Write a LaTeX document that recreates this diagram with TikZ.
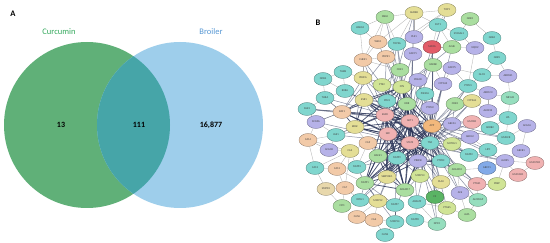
\documentclass[tikz,border=0pt]{standalone}
\usepackage{fontspec}
\setmainfont{Carlito}
\usetikzlibrary{shapes,positioning,backgrounds}

\definecolor{vGreen}{RGB}{96,176,120}
\definecolor{vBlue}{RGB}{158,206,235}
\definecolor{vTeal}{RGB}{70,165,168}
\definecolor{vGreenTxt}{RGB}{52,168,92}
\definecolor{vBlueTxt}{RGB}{88,152,212}
\definecolor{sTeal}{RGB}{128,214,206}
\definecolor{sAqua}{RGB}{150,222,190}
\definecolor{sGreen}{RGB}{170,222,160}
\definecolor{sDkGreen}{RGB}{90,180,100}
\definecolor{sPeach}{RGB}{242,202,168}
\definecolor{sYellow}{RGB}{228,222,150}
\definecolor{sYGreen}{RGB}{208,228,150}
\definecolor{sPurple}{RGB}{182,178,232}
\definecolor{sBlue}{RGB}{130,170,232}
\definecolor{sPink}{RGB}{240,178,178}
\definecolor{sRed}{RGB}{226,92,104}
\definecolor{sOrange}{RGB}{242,184,124}
\definecolor{sBeige}{RGB}{232,216,172}
\definecolor{edgeBlue}{RGB}{40,50,86}

\tikzset{
  gn/.style={ellipse, draw=#1!60!black, fill=#1, line width=0.3pt, minimum width=18pt,
    minimum height=13pt, inner sep=0pt, text=black!75, font=\fontsize{2.8}{3}\selectfont},
  lite/.style={gray!65, line width=0.3pt},
  mid/.style={edgeBlue, draw opacity=0.55, line width=0.5pt},
  dk/.style={edgeBlue, draw opacity=0.8, line width=0.8pt},
  venn/.style={font=\bfseries\fontsize{8}{9}\selectfont}
}

\begin{document}
\begin{tikzpicture}[x=1pt,y=-1pt]
\useasboundingbox (0,0) rectangle (550,243);

% panel A
\fill[vGreen] (87,125) circle[radius=83pt];
\fill[vBlue] (180,125) circle[radius=83pt];
\begin{scope}
  \clip (87,125) circle[radius=83pt];
  \fill[vTeal] (180,125) circle[radius=83pt];
\end{scope}
\node[font=\bfseries\fontsize{8.5}{9}\selectfont] (labA) at (13,14) {A};
\node[text=vGreenTxt, font=\fontsize{8.5}{9}\selectfont] (cur) at (59,32) {Curcumin};
\node[text=vBlueTxt, font=\fontsize{8.5}{9}\selectfont] (bro) at (211,32) {Broiler};
\node[venn] (n13) at (61,125) {13};
\node[venn] (n111) at (139,125) {111};
\node[venn] (n16877) at (211,125) {16,877};

% panel B
\node[font=\bfseries\fontsize{8.5}{9}\selectfont] (labB) at (318,23) {B};

\node[gn=sTeal] (hdac6) at (360,28) {HDAC6};
\node[gn=sGreen] (melk) at (385,17) {MELK};
\node[gn=sYellow] (aurkb) at (414,13) {AURKB};
\node[gn=sYellow] (top1) at (447,10) {TOP1};
\node[gn=sTeal] (fut1) at (438,25) {FUT1};
\node[gn=sTeal] (st6) at (459,34) {ST6GAL1};
\node[gn=sGreen] (grk2) at (470,19) {GRK2};
\node[gn=sPeach] (wee1) at (378,42) {WEE1};
\node[gn=sTeal] (top2a) at (397,44) {TOP2A};
\node[gn=sPurple] (plk1) at (414,37) {PLK1};
\node[gn=sRed] (maoa) at (432,47) {MAOA};
\node[gn=sGreen] (ache) at (452,47) {ACHE};
\node[gn=sPurple] (nqo2) at (475,48) {NQO2};
\node[gn=sTeal] (grk6) at (492,38) {GRK6};
\node[gn=sPeach] (chek1) at (363,60) {CHEK1};
\node[gn=sPeach] (pdpk1) at (386,57) {PDPK1};
\node[gn=sPurple] (adcy1) at (413,54) {ADCY1};
\node[gn=sGreen] (cdk1) at (400,70) {CDK1};
\node[gn=sGreen] (gsk3b) at (433,65) {GSK3B};
\node[gn=sPurple] (adcy5) at (452,68) {ADCY5};
\node[gn=sTeal] (grk5) at (497,58) {GRK5};
\node[gn=sTeal] (glo1) at (482,75) {GLO1};
\node[gn=sPurple] (akr1b1) at (508,76) {AKR1B1};
\node[gn=sTeal] (ptpn1) at (468,86) {PTPN1};
\node[gn=sPurple] (akr1c3) at (488,93) {AKR1C3};
\node[gn=sAqua] (nr1h3) at (510,98) {NR1H3};
\node[gn=sPurple] (pde4d) at (418,80) {PDE4D};
\node[gn=sPurple] (cyp1a2) at (443,84) {CYP1A2};
\node[gn=sTeal] (pik3ca) at (425,94) {PIK3CA};
\node[gn=sGreen] (cdk2) at (455,104) {CDK2};
\node[gn=sYellow] (cyp3a4) at (472,101) {CYP3A4};
\node[gn=sPurple] (ptpn2) at (430,108) {PTPN2};
\node[gn=sPurple] (alox12) at (488,111) {ALOX12};
\node[gn=sTeal] (lpl) at (508,118) {LPL};

\node[gn=sTeal] (thrb) at (343,72) {THRB};
\node[gn=sTeal] (nox4) at (323,79) {NOX4};
\node[gn=sYellow] (prkca) at (363,78) {PRKCA};
\node[gn=sYGreen] (ptk2) at (382,85) {PTK2};
\node[gn=sYGreen] (fyn) at (402,87) {FYN};
\node[gn=sTeal] (rxra) at (345,91) {RXRA};
\node[gn=sTeal] (thra) at (325,98) {THRA};
\node[gn=sYellow] (esr1) at (364,100) {ESR1};
\node[gn=sTeal] (pim1) at (387,101) {PIM1};
\node[gn=sGreen] (kdr) at (407,104) {KDR};
\node[gn=sTeal] (sgk1) at (307,109) {SGK1};
\node[gn=sPeach] (raf1) at (342,112) {RAF1};
\node[gn=sPink] (egfr) at (385,115) {EGFR};
\node[gn=sPink] (akt1) at (410,121) {AKT1};
\node[gn=sOrange] (app) at (432,126) {APP};
\node[gn=sPurple] (abca1) at (452,124) {ABCA1};
\node[gn=sPink] (hmox1) at (472,122) {HMOX1};
\node[gn=sTeal] (adrb2) at (490,128) {ADRB2};
\node[gn=sPurple] (acaca) at (527,126) {ACACA};

\node[gn=sPurple] (scn5a) at (316,122) {SCN5A};
\node[gn=sYellow] (braf) at (355,127) {BRAF};
\node[gn=sTeal] (jak1) at (336,135) {JAK1};
\node[gn=sPeach] (ca14) at (308,140) {CA14};
\node[gn=sPeach] (ca9) at (368,143) {CA9};
\node[gn=sPink] (src) at (388,134) {SRC};
\node[gn=sPink] (stat3) at (410,143) {STAT3};
\node[gn=sTeal] (tnf) at (430,143) {TNF};
\node[gn=sYGreen] (notch1) at (452,144) {NOTCH1};
\node[gn=sPurple] (abcg2) at (470,137) {ABCG2};
\node[gn=sTeal] (hmgcr) at (506,138) {HMGCR};
\node[gn=sPurple] (acacb) at (329,150) {ACACB};
\node[gn=sYellow] (ca2) at (350,151) {CA2};
\node[gn=sGreen] (bace1) at (378,156) {BACE1};
\node[gn=sTeal] (mmp9) at (397,158) {MMP9};
\node[gn=sTeal] (mmp2) at (469,155) {MMP2};
\node[gn=sTeal] (lipc) at (488,150) {LIPC};
\node[gn=sPurple] (abcb1) at (521,151) {ABCB1};
\node[gn=sPurple] (alox5) at (505,161) {ALOX5};
\node[gn=sPink] (hsd17) at (535,163) {HSD17B1};
\node[gn=sTeal] (ca13) at (315,168) {CA13};
\node[gn=sPeach] (ca12) at (337,169) {CA12};
\node[gn=sTeal] (mmp3) at (357,167) {MMP3};
\node[gn=sPurple] (prkcb) at (418,161) {PRKCB};
\node[gn=sTeal] (ptprc) at (441,161) {PTPRC};
\node[gn=sGreen] (adam10) at (457,170) {ADAM10};
\node[gn=sBlue] (abcc1) at (487,168) {ABCC1};
\node[gn=sPink] (hsd11) at (518,175) {HSD11B1};
\node[gn=sBeige] (smpd1) at (326,189) {SMPD1};
\node[gn=sPeach] (ca7) at (345,188) {CA7};
\node[gn=sGreen] (mmp1) at (365,183) {MMP1};
\node[gn=sYellow] (serpine1) at (387,177) {SERPINE1};
\node[gn=sGreen] (adam17) at (405,190) {ADAM17};
\node[gn=sYGreen] (mmp13) at (420,176) {MMP13};
\node[gn=sYellow] (plau) at (441,182) {PLAU};
\node[gn=sPink] (ptgs1) at (477,184) {PTGS1};
\node[gn=sYGreen] (prep) at (497,184) {PREP};
\node[gn=sPurple] (ace) at (460,193) {ACE};
\node[gn=sGreen] (cpo) at (342,206) {CPO};
\node[gn=sTeal] (oprl1) at (360,200) {OPRL1};
\node[gn=sYellow] (mmp12) at (378,201) {MMP12};
\node[gn=sTeal] (mmp7) at (395,205) {MMP7};
\node[gn=sTeal] (adam9) at (417,202) {ADAM9};
\node[gn=sDkGreen] (f2) at (435,197) {F2};
\node[gn=sAqua] (alox5ap) at (478,200) {ALOX5AP};
\node[gn=sYGreen] (ptges) at (447,208) {PTGES};
\node[gn=sPeach] (ca5a) at (357,217) {CA5A};
\node[gn=sPeach] (ca6) at (374,220) {CA6};
\node[gn=sTeal] (mmp14) at (395,222) {MMP14};
\node[gn=sGreen] (alpl) at (467,215) {ALPL};
\node[gn=sAqua] (dpp4) at (437,224) {DPP4};
\node[gn=sTeal] (mmp8) at (415,220) {MMP8};
\node[gn=sTeal] (ca5b) at (385,235) {CA5B};

\begin{scope}[on background layer]
% light links
\path[lite] (hdac6) edge (wee1) edge (chek1) edge (melk);
\path[lite] (melk) edge (wee1) edge (top2a) edge (aurkb) edge (chek1);
\path[lite] (aurkb) edge (top2a) edge (top1) edge (wee1) edge (plk1) edge (fut1);
\path[lite] (top1) edge (top2a) edge (fut1) edge (plk1);
\path[lite] (fut1) edge (st6) edge (maoa) edge (ache);
\path[lite] (st6) edge (ache) edge (nqo2) edge (grk2);
\path[lite] (grk6) edge (grk2) edge (grk5);
\path[lite] (glo1) edge (grk5) edge (akr1b1) edge (ptpn1) edge (adcy5);
\path[lite] (akr1b1) edge (grk5) edge (nr1h3);
\path[lite] (akr1c3) edge (ptpn1) edge (nr1h3) edge (alox12);
\path[lite] (lpl) edge (nr1h3) edge (alox12) edge (hmgcr);
\path[lite] (cdk2) edge (cyp3a4) edge (ptpn1) (cyp3a4) edge (alox12);
\path[lite] (maoa) edge (ache) edge (nqo2) edge (plk1) (nqo2) edge (ptpn1);
\path[lite] (gsk3b) edge (adcy5) (plk1) edge (adcy1);
\path[lite] (chek1) edge (wee1) edge (pdpk1) edge (prkca) edge (cdk1);
\path[lite] (top2a) edge (wee1) edge (pdpk1) edge (plk1) (pdpk1) edge (cdk1);
\path[lite] (thrb) edge (nox4) edge (rxra) edge (prkca);
\path[lite] (thra) edge (nox4) edge (rxra) edge (sgk1) edge (raf1);
\path[lite] (rxra) edge (nox4) edge (esr1);
\path[lite] (scn5a) edge (sgk1) edge (raf1) edge (jak1) (sgk1) edge (raf1);
\path[lite] (jak1) edge (braf) edge (acacb) edge (ca14);
\path[lite] (ca14) edge (acacb) edge (ca2) edge (ca13);
\path[lite] (ca2) edge (acacb) edge (ca9) edge (ca12) edge (ca13) edge (ca7) edge (mmp3);
\path[lite] (ca13) edge (ca12) edge (smpd1) (ca12) edge (ca7);
\path[lite] (ca7) edge (smpd1) edge (cpo) edge (oprl1);
\path[lite] (ca9) edge (braf) edge (mmp3) (cpo) edge (oprl1) (oprl1) edge (mmp12);
\path[lite] (ca6) edge (ca5a) edge (ca5b) edge (mmp12) (ca5a) edge (mmp14);
\path[lite] (mmp14) edge (ca5b) edge (mmp7) edge (mmp8) (mmp7) edge (mmp12);
\path[lite] (dpp4) edge (mmp8) edge (ptges) edge (adam9);
\path[lite] (ptges) edge (alpl) edge (ace) edge (adam9) edge (f2);
\path[lite] (ace) edge (alox5ap) edge (alpl) edge (adam10) edge (ptgs1);
\path[lite] (ptgs1) edge (alox5ap) edge (prep) edge (abcc1) (prep) edge (alox5);
\path[lite] (alox5) edge (hsd11) edge (hsd17) edge (abcb1) edge (abcc1);
\path[lite] (hsd17) edge (hsd11) (abcb1) edge (acaca) (acaca) edge (hmgcr);
\path[lite] (lipc) edge (hmgcr) edge (abcg2) edge (abcc1) (hmgcr) edge (adrb2);
\path[lite] (abcg2) edge (notch1) edge (abca1) (abcc1) edge (adam10);
\path[lite] (plau) edge (adam10) edge (f2) (f2) edge (adam9);
\path[lite] (hmox1) edge (abca1) edge (adrb2) (adrb2) edge (lpl);
\path[lite] (ca12) edge (mmp3) edge (mmp1) (smpd1) edge (cpo) (ca14) edge (scn5a);
\path[lite] (gsk3b) edge (maoa) edge (cyp1a2) (adcy5) edge (cyp1a2) edge (ptpn1);
\path[lite] (mmp12) edge (ca5a) (mmp8) edge (adam9) (alpl) edge (alox5ap);
% medium links
\path[mid] (prkca) edge (akt1) edge (raf1) edge (fyn) edge (egfr) edge (braf);
\path[mid] (ptk2) edge (akt1) edge (stat3) edge (fyn) edge (src) edge (kdr);
\path[mid] (cdk1) edge (akt1) edge (stat3) edge (egfr) edge (ptk2);
\path[mid] (pdpk1) edge (akt1) edge (egfr) edge (raf1);
\path[mid] (gsk3b) edge (akt1) edge (app) edge (fyn) edge (tnf);
\path[mid] (adcy1) edge (akt1) edge (stat3) edge (fyn);
\path[mid] (pde4d) edge (akt1) edge (tnf) edge (src) edge (app);
\path[mid] (cyp1a2) edge (tnf) edge (app) edge (prkcb);
\path[mid] (pik3ca) edge (akt1) edge (stat3) edge (tnf) edge (app);
\path[mid] (pim1) edge (akt1) edge (stat3) edge (egfr) edge (fyn);
\path[mid] (ptpn2) edge (akt1) edge (app) edge (tnf) edge (stat3);
\path[mid] (cdk2) edge (app) edge (tnf) edge (abca1);
\path[mid] (cyp3a4) edge (app) edge (tnf) edge (prkcb);
\path[mid] (ptpn1) edge (app) edge (tnf);
\path[mid] (mmp2) edge (app) edge (tnf) edge (akt1) edge (notch1);
\path[mid] (notch1) edge (akt1) edge (stat3) edge (app);
\path[mid] (abcg2) edge (app) edge (tnf);
\path[mid] (adam10) edge (app) edge (stat3) edge (tnf) edge (mmp9);
\path[mid] (mmp13) edge (akt1) edge (stat3) edge (tnf) edge (mmp9) edge (adam17);
\path[mid] (plau) edge (tnf) edge (akt1) edge (stat3);
\path[mid] (mmp3) edge (mmp9) edge (bace1) edge (mmp1);
\path[mid] (mmp12) edge (mmp9) edge (mmp1) edge (serpine1);
\path[mid] (oprl1) edge (serpine1) edge (mmp9) edge (mmp1);
\path[mid] (mmp7) edge (mmp1) edge (adam17) edge (mmp9);
\path[mid] (adam9) edge (adam17) edge (tnf) edge (akt1);
\path[mid] (f2) edge (tnf) edge (app) edge (stat3);
\path[mid] (ca9) edge (bace1) edge (mmp9) edge (stat3);
\path[mid] (jak1) edge (stat3) edge (akt1) edge (braf);
\path[mid] (thra) edge (akt1) edge (raf1) (rxra) edge (akt1) edge (esr1);
\path[mid] (hmox1) edge (app) edge (tnf) edge (akt1);
\path[mid] (abca1) edge (app) edge (tnf) (lipc) edge (app);
\path[mid] (ace) edge (app) edge (tnf) (alox5ap) edge (tnf);
\path[mid] (ptgs1) edge (akt1) edge (tnf) edge (stat3);
\path[mid] (alox5) edge (tnf) edge (stat3) edge (app);
\path[mid] (ptges) edge (tnf) edge (stat3) (dpp4) edge (tnf) edge (akt1);
\path[mid] (mmp14) edge (mmp1) edge (mmp7);
\path[mid] (wee1) edge (akt1) edge (top2a) (top2a) edge (akt1) edge (fyn) edge (egfr);
\path[mid] (chek1) edge (akt1) edge (egfr) (maoa) edge (app) edge (akt1);
\path[mid] (ache) edge (app) edge (fyn) (sgk1) edge (egfr) edge (akt1) edge (raf1);
\path[mid] (scn5a) edge (raf1) edge (stat3) (hmgcr) edge (app) edge (abca1);
\path[mid] (melk) edge (akt1) (aurkb) edge (akt1) edge (egfr) (top1) edge (akt1);
\path[mid] (esr1) edge (mmp9) edge (app) (pim1) edge (tnf) (kdr) edge (app) edge (mmp9);
% dense core
\path[dk] (akt1) edge (stat3) edge (tnf) edge (egfr) edge (src) edge (app) edge (mmp9)
  edge (bace1) edge (braf) edge (raf1) edge (fyn) edge (esr1) edge (kdr) edge (prkcb)
  edge (serpine1) edge (mmp1) edge (adam17) edge (ptprc);
\path[dk] (stat3) edge (tnf) edge (egfr) edge (src) edge (app) edge (mmp9) edge (bace1)
  edge (braf) edge (raf1) edge (fyn) edge (esr1) edge (kdr) edge (prkcb) edge (serpine1)
  edge (mmp1) edge (adam17) edge (ptprc);
\path[dk] (tnf) edge (egfr) edge (src) edge (app) edge (mmp9) edge (bace1) edge (braf)
  edge (fyn) edge (esr1) edge (kdr) edge (prkcb) edge (serpine1) edge (mmp1) edge (adam17)
  edge (ptprc);
\path[dk] (egfr) edge (src) edge (app) edge (mmp9) edge (bace1) edge (braf) edge (raf1)
  edge (fyn) edge (esr1) edge (kdr) edge (prkcb) edge (serpine1) edge (mmp1) edge (adam17);
\path[dk] (src) edge (mmp9) edge (bace1) edge (braf) edge (raf1) edge (fyn) edge (kdr)
  edge (prkcb) edge (serpine1) edge (mmp1) edge (adam17);
\path[dk] (app) edge (mmp9) edge (bace1) edge (fyn) edge (kdr) edge (prkcb) edge (serpine1)
  edge (adam17) edge (ptprc);
\path[dk] (mmp9) edge (bace1) edge (mmp1) edge (serpine1) edge (adam17) edge (prkcb) edge (ptprc);
\path[dk] (bace1) edge (mmp1) edge (serpine1) edge (adam17);
\path[dk] (braf) edge (raf1) edge (fyn) edge (esr1) edge (kdr);
\path[dk] (raf1) edge (fyn) edge (esr1) (fyn) edge (esr1) edge (kdr) edge (prkcb);
\path[dk] (esr1) edge (kdr) (kdr) edge (prkcb) edge (serpine1);
\path[dk] (prkcb) edge (serpine1) edge (adam17) edge (ptprc);
\path[dk] (serpine1) edge (mmp1) edge (adam17) (mmp1) edge (adam17);
\end{scope}
\end{tikzpicture}
\end{document}
